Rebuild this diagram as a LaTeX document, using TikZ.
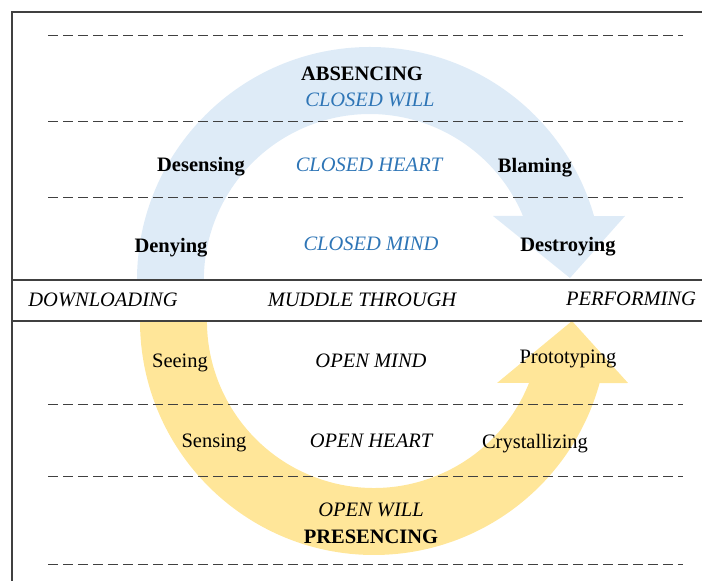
\documentclass[tikz,border=0pt]{standalone}
\usepackage{fontspec}
\setmainfont{Liberation Serif}
\definecolor{closedfill}{RGB}{222,235,247}
\definecolor{openfill}{RGB}{255,230,153}
\definecolor{closedtext}{RGB}{46,117,182}
\definecolor{rulegray}{RGB}{64,64,64}
\tikzset{
	labelbase/.style={anchor=base,inner sep=0pt,font=\fontsize{20.5}{24}\selectfont},
	stagebold/.style={labelbase,font=\fontsize{20.5}{24}\selectfont\bfseries},
	stageplain/.style={labelbase},
	closedlevel/.style={labelbase,font=\fontsize{20.5}{24}\selectfont\itshape,text=closedtext},
	openlevel/.style={labelbase,font=\fontsize{20.5}{24}\selectfont\itshape},
	rowline/.style={dashed,dash pattern=on 10pt off 5pt,line width=1pt,rulegray},
	frameline/.style={line width=1.3pt,rulegray}
}
\begin{document}
\begin{tikzpicture}
			\useasboundingbox (0,0) rectangle (702pt,581pt);
			\coordinate (C) at (370pt,301pt);
			\coordinate (O) at (374pt,260pt);
			\fill[closedfill] (137pt,301pt) arc[start angle=180,end angle=15.9,radius=233pt]
				-- (625pt,365pt) -- (570pt,303pt) -- (493pt,365pt) -- (523pt,365pt)
				arc[start angle=22.7,end angle=180,radius=166pt] -- cycle;
			\fill[openfill] (140pt,260pt) arc[start angle=180,end angle=344.6,radius=234pt]
				-- (628pt,198pt) -- (572pt,260pt) -- (497pt,198pt) -- (529pt,198pt)
				arc[start angle=338.2,end angle=180,radius=167pt] -- cycle;
			\coordinate (BL) at (12pt,0pt);
			\coordinate (TL) at (12pt,569pt);
			\coordinate (TR) at (702pt,569pt);
			\draw[frameline] (BL)--(TL)--(TR);
			\draw[frameline] (12pt,301pt)--(702pt,301pt);
			\draw[frameline] (12pt,260pt)--(702pt,260pt);
			\foreach \y in {545,459,383,176,104,16} \draw[rowline] (48pt,\y pt)--(683pt,\y pt);
			\node[stagebold] (absencing) at (362pt,500pt) {ABSENCING};
			\node[closedlevel] (closedwill) at (370pt,474pt) {CLOSED WILL};
			\node[stagebold] (desensing) at (201pt,409pt) {Desensing};
			\node[closedlevel] (closedheart) at (369pt,409pt) {CLOSED HEART};
			\node[stagebold] (blaming) at (535pt,408pt) {Blaming};
			\node[stagebold] (denying) at (171pt,328pt) {Denying};
			\node[closedlevel] (closedmind) at (371pt,330pt) {CLOSED MIND};
			\node[stagebold] (destroying) at (568pt,329pt) {Destroying};
			\node[openlevel] (downloading) at (103pt,274pt) {DOWNLOADING};
			\node[openlevel] (muddle) at (362pt,274pt) {MUDDLE THROUGH};
			\node[openlevel] (performing) at (631pt,275pt) {PERFORMING};
			\node[stageplain] (seeing) at (180pt,213pt) {Seeing};
			\node[openlevel] (openmind) at (371pt,213pt) {OPEN MIND};
			\node[stageplain] (prototyping) at (568pt,217pt) {Prototyping};
			\node[stageplain] (sensing) at (214pt,133pt) {Sensing};
			\node[openlevel] (openheart) at (371pt,133pt) {OPEN HEART};
			\node[stageplain] (crystallizing) at (535pt,132pt) {Crystallizing};
			\node[openlevel] (openwill) at (371pt,64pt) {OPEN WILL};
			\node[stagebold] (presencing) at (371pt,37pt) {PRESENCING};
		\end{tikzpicture}
\end{document}
